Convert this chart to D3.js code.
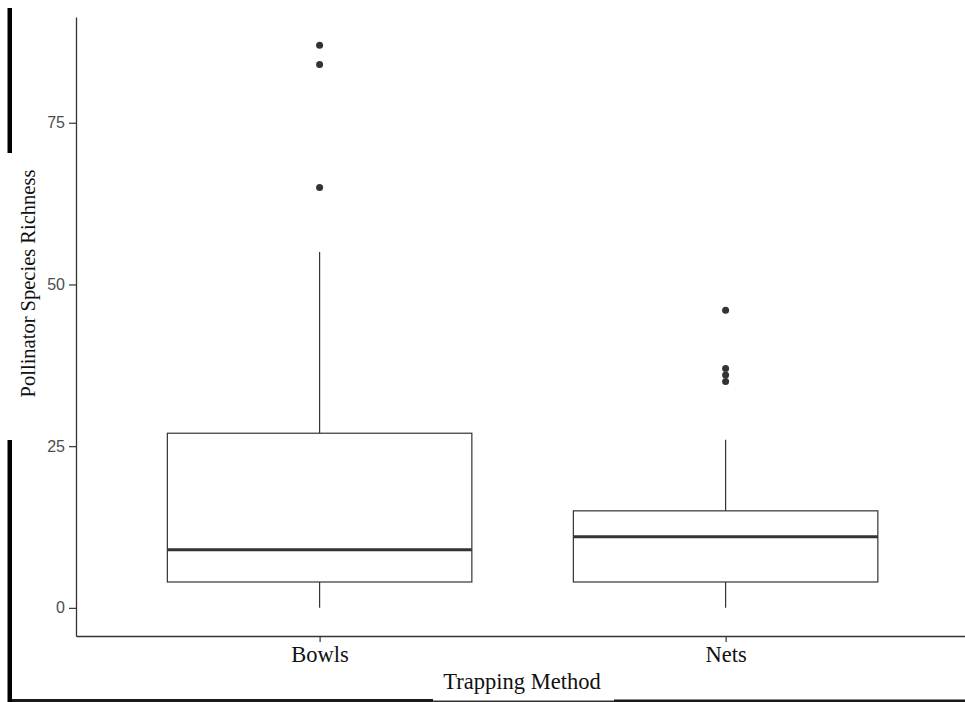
<!DOCTYPE html>
<html>
<head>
<meta charset="utf-8">
<script src="https://cdn.jsdelivr.net/npm/d3@7"></script>
<style>
  html, body { margin: 0; padding: 0; background: #fff; }
  svg { display: block; }
</style>
</head>
<body>
<svg id="chart" width="965" height="702"></svg>
<script>
// ---- data ----
const categories = ["Bowls", "Nets"];
const whiskerLow = [0, 0];
const q1 = [4, 4];
const median = [9, 11];
const q3 = [27, 15];
const whiskerHigh = [55, 26];
const outliersBowls = [65, 84, 87];
const outliersNets = [35, 36, 37, 46];
const yTicks = [0, 25, 50, 75];
const xTitle = "Trapping Method";
const yTitle = "Pollinator Species Richness";

const outliers = [outliersBowls, outliersNets];

// ---- layout ----
const W = 965, H = 702;
const axisLeft = 76, axisBottom = 636, axisTop = 17;
const step = 406;
const svg = d3.select("#chart");

// frame (page border pieces)
svg.append("rect").attr("x", 7.5).attr("y", 8).attr("width", 4.5).attr("height", 145).attr("fill", "#000");
svg.append("rect").attr("x", 7.5).attr("y", 440).attr("width", 4.5).attr("height", 262).attr("fill", "#000");
svg.append("rect").attr("x", 12).attr("y", 699).attr("width", 421).attr("height", 3).attr("fill", "#1a1a1a");
svg.append("rect").attr("x", 433).attr("y", 700.5).attr("width", 181).attr("height", 1.5).attr("fill", "#333");
svg.append("rect").attr("x", 614).attr("y", 699.5).attr("width", W - 614).attr("height", 2.5).attr("fill", "#1a1a1a");

// scales
const allVals = [].concat(whiskerLow, whiskerHigh, ...outliers);
const lo = d3.min(allVals), hi = d3.max(allVals);
const pad = (hi - lo) * 0.05;
const y = d3.scaleLinear().domain([lo - pad, hi + pad]).range([axisBottom, axisTop]);
const x = d3.scaleLinear().domain([0.4, categories.length + 0.6])
  .range([axisLeft, axisLeft + step * (categories.length + 0.2)]);
const boxW = 0.75 * step;

const ink = "#333333";

// boxes
categories.forEach((c, i) => {
  const cx = x(i + 1);
  const g = svg.append("g");
  g.append("line").attr("x1", cx).attr("x2", cx).attr("y1", y(q3[i])).attr("y2", y(whiskerHigh[i]))
    .attr("stroke", ink).attr("stroke-width", 1.2);
  g.append("line").attr("x1", cx).attr("x2", cx).attr("y1", y(q1[i])).attr("y2", y(whiskerLow[i]))
    .attr("stroke", ink).attr("stroke-width", 1.2);
  g.append("rect").attr("x", cx - boxW / 2).attr("y", y(q3[i]))
    .attr("width", boxW).attr("height", y(q1[i]) - y(q3[i]))
    .attr("fill", "#fff").attr("stroke", ink).attr("stroke-width", 1.2);
  g.append("line").attr("x1", cx - boxW / 2).attr("x2", cx + boxW / 2)
    .attr("y1", y(median[i])).attr("y2", y(median[i]))
    .attr("stroke", ink).attr("stroke-width", 3);
  g.selectAll("circle").data(outliers[i]).join("circle")
    .attr("cx", cx).attr("cy", d => y(d)).attr("r", 3.5).attr("fill", ink);
});

// y axis
const yAxis = svg.append("g").attr("transform", `translate(${axisLeft},0)`)
  .call(d3.axisLeft(y).tickValues(yTicks).tickSize(7).tickPadding(4).tickSizeOuter(0));
yAxis.select(".domain").attr("stroke", ink).attr("stroke-width", 1.3);
yAxis.selectAll(".tick line").attr("stroke", ink).attr("stroke-width", 1.2);
yAxis.selectAll(".tick text").attr("fill", "#4d4d4d")
  .attr("font-family", "Liberation Sans, Arial, sans-serif").attr("font-size", 16);

// x axis
const xAxis = svg.append("g").attr("transform", `translate(0,${axisBottom})`)
  .call(d3.axisBottom(x).tickValues(categories.map((c, i) => i + 1))
    .tickFormat((d) => categories[d - 1]).tickSize(6).tickPadding(4).tickSizeOuter(0));
xAxis.select(".domain").attr("stroke", ink).attr("stroke-width", 1.3);
xAxis.selectAll(".tick line").attr("stroke", ink).attr("stroke-width", 1.2);
xAxis.selectAll(".tick text").attr("fill", "#111")
  .attr("font-family", "Liberation Serif, Times New Roman, serif").attr("font-size", 22.5)
  .attr("dy", null).attr("y", 26);

// titles
svg.append("text").attr("x", (axisLeft + 968) / 2).attr("y", 689)
  .attr("text-anchor", "middle").attr("font-family", "Liberation Serif, Times New Roman, serif")
  .attr("font-size", 22.5).attr("fill", "#111").text(xTitle);
svg.append("text").attr("transform", `translate(35,${283.5}) rotate(-90)`)
  .attr("text-anchor", "middle").attr("font-family", "Liberation Serif, Times New Roman, serif")
  .attr("font-size", 20.5).attr("fill", "#111").text(yTitle);
</script>
</body>
</html>
